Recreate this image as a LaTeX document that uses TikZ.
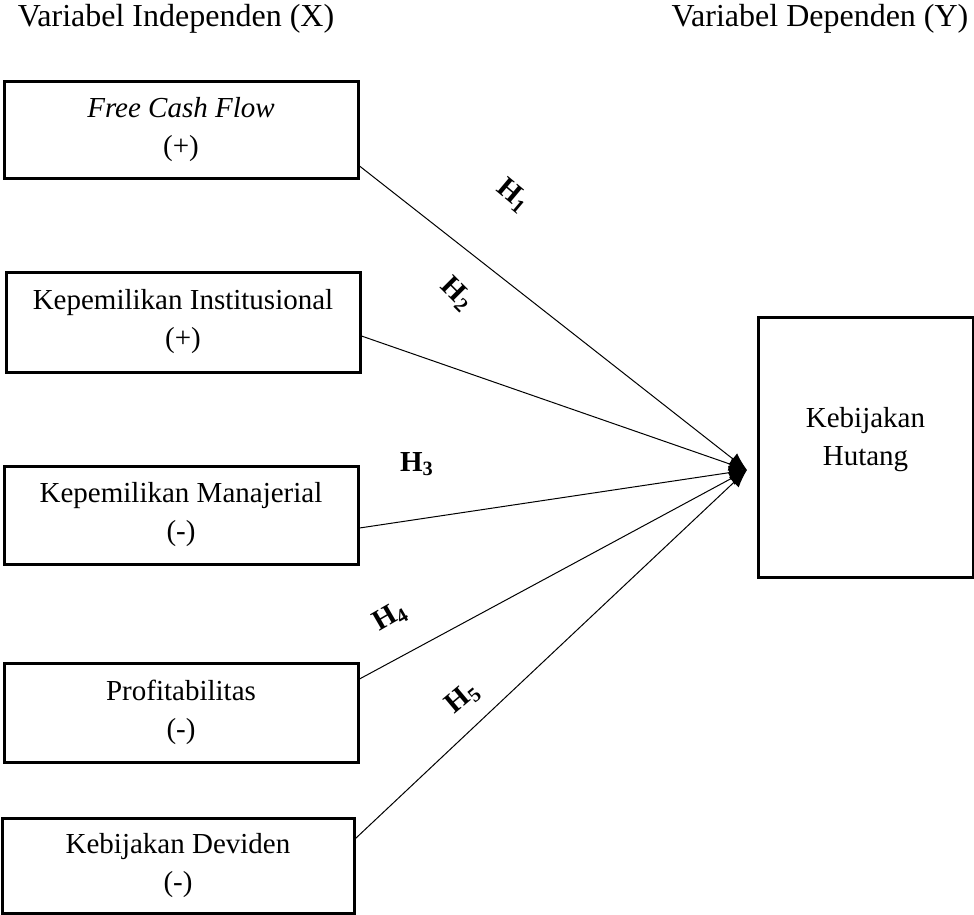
\documentclass[tikz,border=0pt]{standalone}
\usepackage{fontspec}
\setmainfont{Liberation Serif}
\usetikzlibrary{arrows.meta}
\begin{document}
\begin{tikzpicture}[x=0.5pt, y=-0.5pt,
        varbox/.style={draw, line width=1.5pt, align=center, inner sep=0pt,
            font=\fontsize{14.5}{19}\selectfont},
        hyp/.style={font=\fontsize{14.5}{16}\selectfont\bfseries},
        arr/.style={-{Latex[length=9pt,width=7pt]}, line width=0.5pt}]
        \useasboundingbox (0,0) rectangle (974,915);

        % Headers
        \node[font=\fontsize{16}{20}\selectfont] (hx) at (176,19) {Variabel Independen (X)};
        \node[font=\fontsize{16}{20}\selectfont] (hy) at (820,19) {Variabel Dependen (Y)};

        % Independent variables
        \node[varbox, minimum width=177pt, minimum height=48pt] (fcf) at (181,130) {\textit{Free Cash Flow}\\(+)};
        \node[varbox, minimum width=177pt, minimum height=50pt] (inst) at (183,322) {Kepemilikan Institusional\\(+)};
        \node[varbox, minimum width=177pt, minimum height=49pt] (manj) at (181,515) {Kepemilikan Manajerial\\(-)};
        \node[varbox, minimum width=177pt, minimum height=49.5pt] (prof) at (181,712.5) {Profitabilitas\\(-)};
        \node[varbox, minimum width=176pt, minimum height=47.5pt] (dev) at (178,865.5) {Kebijakan Deviden\\(-)};

        % Dependent variable
        \node[varbox, minimum width=107.5pt, minimum height=130pt] (hut) at (865.5,447) {Kebijakan\\Hutang\\[-8pt]};

        \coordinate (tip) at (747,470);

        % Hypotheses
        \draw[arr] ([yshift=-18pt]fcf.east) -- (tip);
        \draw[arr] ([yshift=-7pt]inst.east) -- (tip);
        \draw[arr] ([yshift=-6.5pt]manj.east) -- (tip);
        \draw[arr] ([yshift=16.75pt]prof.east) -- (tip);
        \draw[arr] ([yshift=13.5pt]dev.east) -- (tip);

        \node[hyp, rotate=-40] (h1) at (513,196) {H$_{\mathbf{1}}$};
        \node[hyp, rotate=-45] (h2) at (457,294) {H$_{\mathbf{2}}$};
        \node[hyp] (h3) at (417,464) {H$_{\mathbf{3}}$};
        \node[hyp, rotate=30] (h4) at (390,617) {H$_{\mathbf{4}}$};
        \node[hyp, rotate=40] (h5) at (463,698) {H$_{\mathbf{5}}$};
    \end{tikzpicture}
\end{document}
